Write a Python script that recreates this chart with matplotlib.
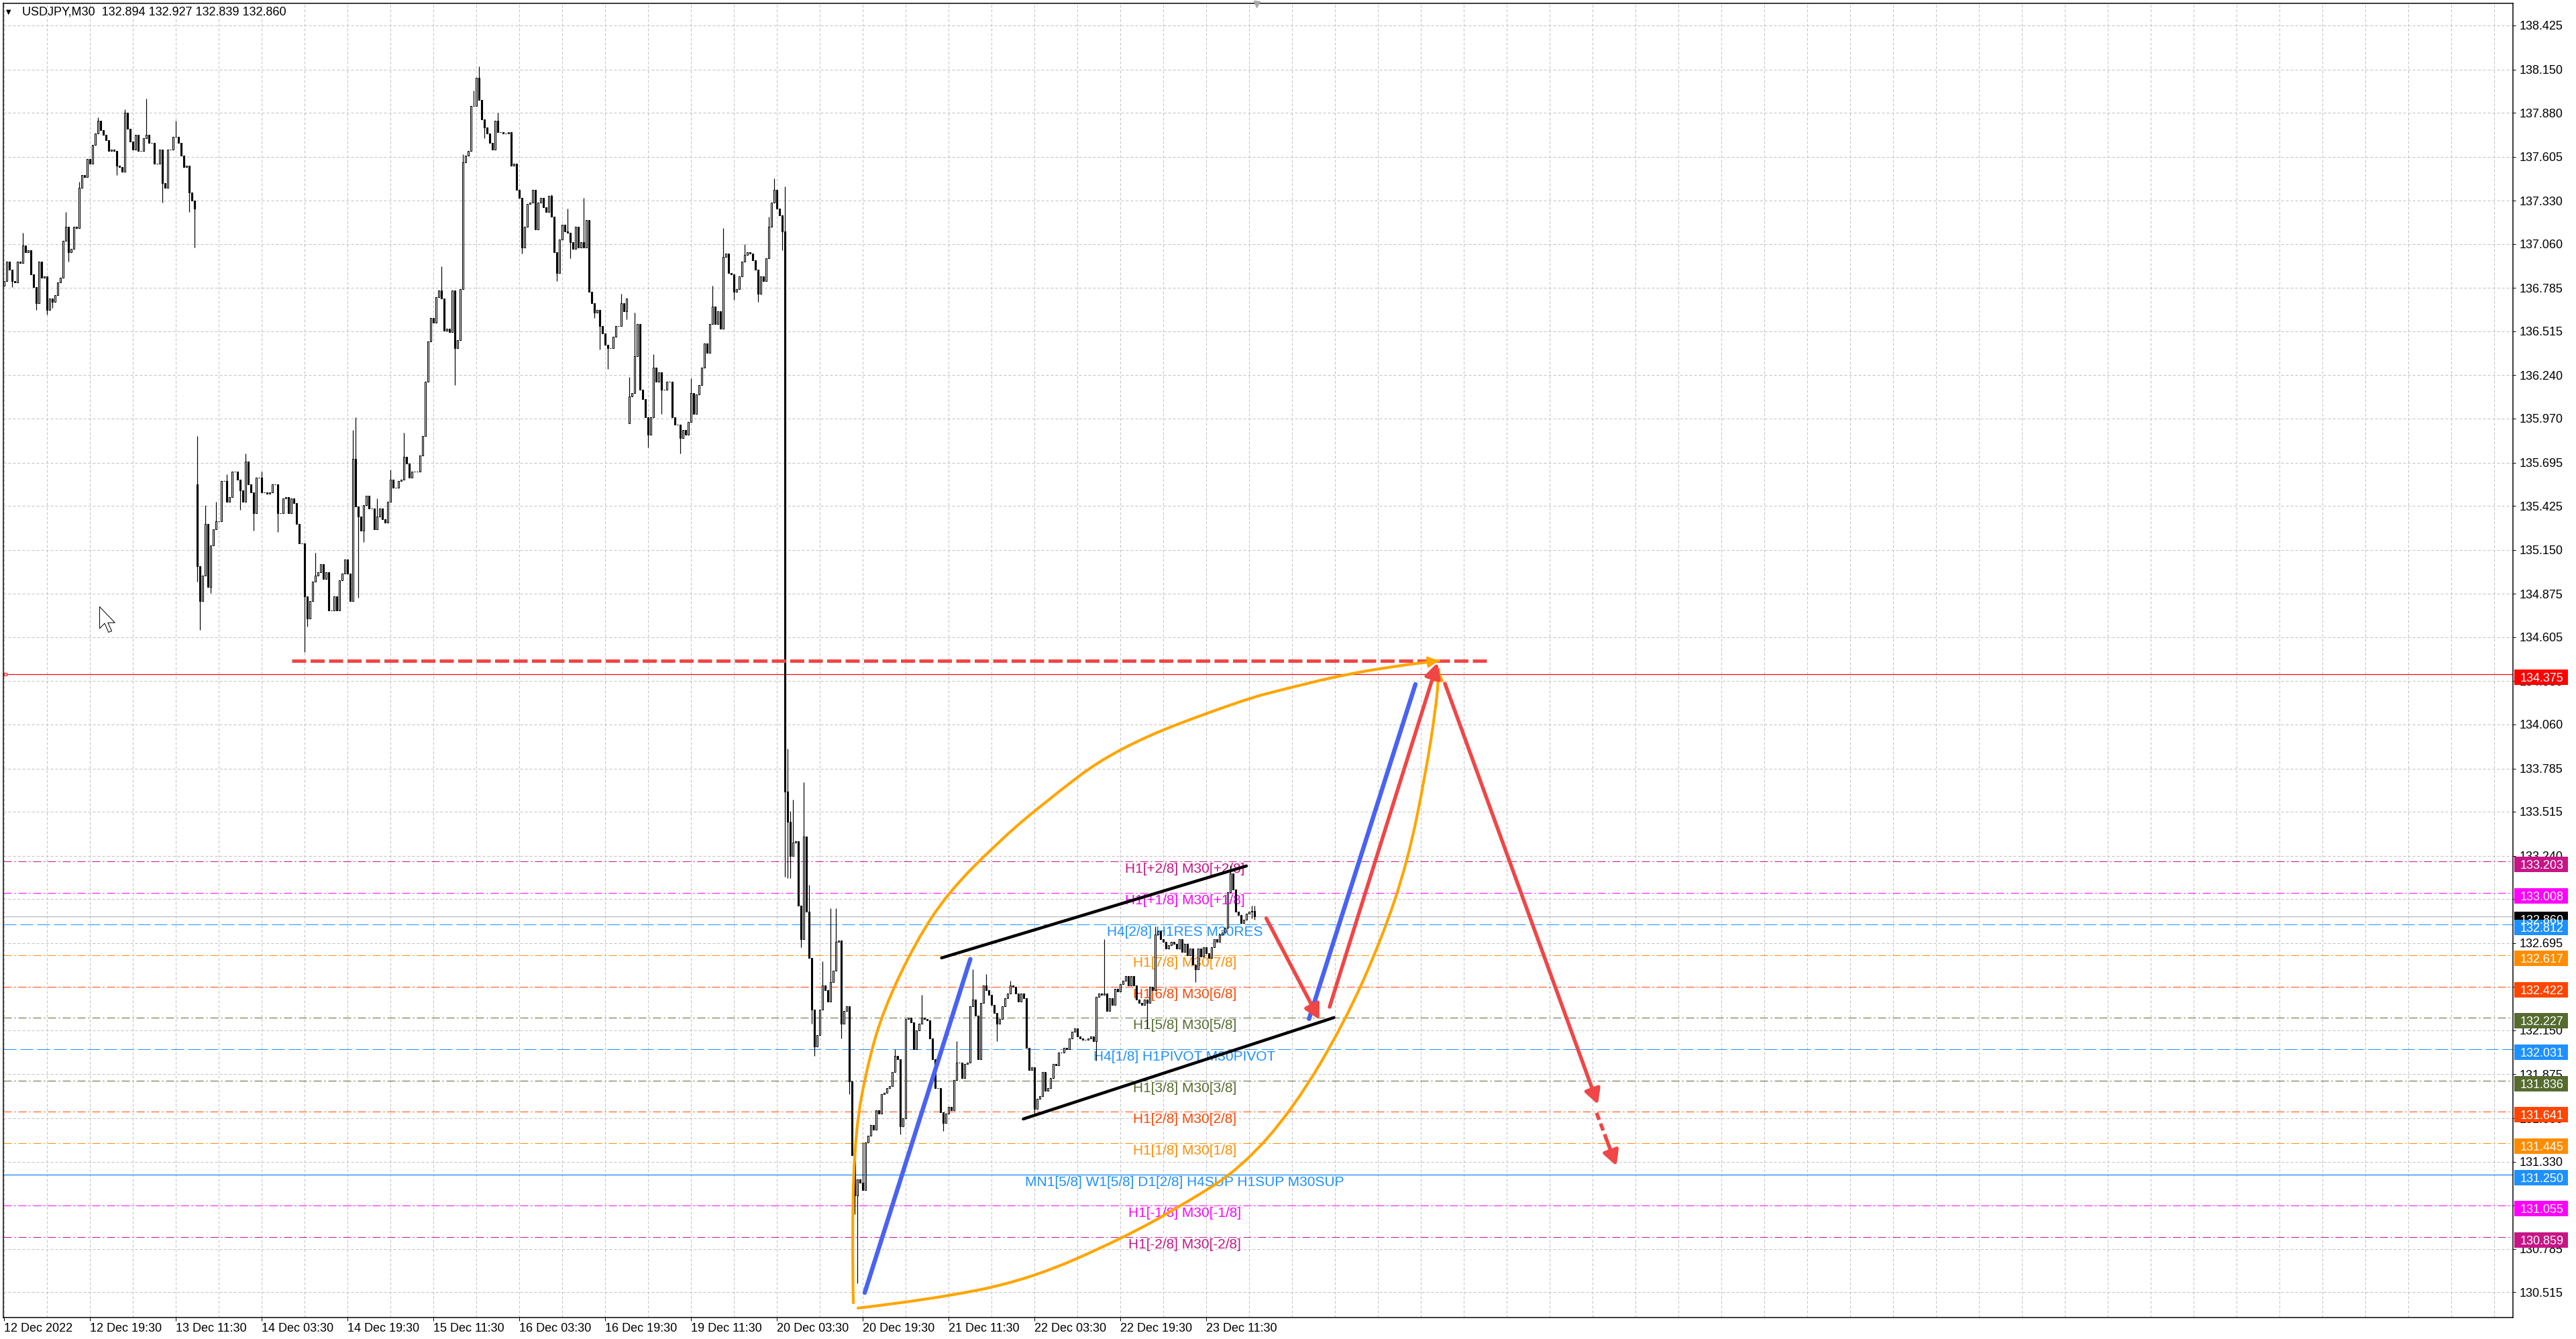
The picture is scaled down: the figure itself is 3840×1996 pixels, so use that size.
import numpy as np
import matplotlib
matplotlib.use("Agg")
import matplotlib.pyplot as plt
import matplotlib.transforms as mtransforms
from matplotlib.patches import Rectangle, PathPatch
from matplotlib.path import Path

plt.rcParams["lines.scale_dashes"] = False
plt.rcParams["font.family"] = ["Liberation Sans", "DejaVu Sans"]

#################### DATA ####################
# M30 closes, bar by bar (12 Dec 2022 00:00 -> 23 Dec 2022)
close_a = [
    136.83, 136.95, 136.90, 136.83, 136.82, 136.95, 136.94, 137.05, 137.01, 137.02,
    136.87, 136.79, 136.69, 136.95, 136.85, 136.86, 136.65, 136.72, 136.70, 136.74,
    136.82, 136.85, 137.08, 137.17, 137.01, 137.03, 137.17, 137.16, 137.41, 137.49,
    137.48, 137.59, 137.56, 137.68, 137.75, 137.83, 137.77, 137.74, 137.71, 137.64,
    137.65, 137.64, 137.55, 137.54, 137.51, 137.88, 137.78, 137.70, 137.65, 137.74,
    137.64, 137.64, 137.72, 137.74, 137.69, 137.69, 137.56, 137.56, 137.65, 137.44,
    137.41, 137.65, 137.65, 137.73, 137.73, 137.69, 137.61, 137.54, 137.55, 137.38,
    137.33, 137.28,
]
close_b = [
    135.05, 134.83, 134.99, 135.31, 134.92, 135.18, 135.28, 135.33, 135.33, 135.58,
    135.58, 135.45, 135.48, 135.64, 135.64, 135.59, 135.52, 135.45, 135.70, 135.56,
    135.51, 135.38, 135.60, 135.60, 135.51, 135.51, 135.50, 135.51, 135.56, 135.56,
    135.38, 135.38, 135.47, 135.48, 135.38, 135.47, 135.44, 135.31, 135.19, 135.19,
    134.86, 134.72, 134.83, 134.95, 134.99, 135.01, 135.06, 134.97, 135.01, 134.77,
    134.77, 134.86, 134.77, 134.96, 135.00, 135.09, 135.00, 134.83, 135.72, 135.42,
    135.36, 135.27, 135.43, 135.49, 135.41, 135.41, 135.28, 135.36, 135.41, 135.34,
    135.32, 135.45, 135.59, 135.54, 135.54, 135.58, 135.59, 135.73, 135.69, 135.60,
    135.64,
]
close_c = [
    135.64, 135.64, 135.74, 135.86, 136.20, 136.45, 136.60, 136.57, 136.73, 136.77,
    136.72, 136.52, 136.53, 136.51, 136.77, 136.41, 136.46, 136.78, 137.57, 137.61,
    137.64, 137.92, 137.92, 138.10, 137.96, 137.84, 137.79, 137.75, 137.69, 137.65,
    137.83, 137.76, 137.76, 137.75, 137.75, 137.76, 137.55, 137.56, 137.40, 137.35,
    137.04, 137.17, 137.31, 137.32, 137.40, 137.15, 137.32, 137.35, 137.29, 137.26,
    137.36, 137.23, 137.01, 136.88, 137.09, 137.18, 137.14, 137.13, 137.07, 137.03,
    137.17, 137.04, 137.07, 137.04, 137.21, 136.76, 136.69, 136.63, 136.65, 136.55,
    136.50, 136.43, 136.41, 136.41, 136.48, 136.55, 136.55, 136.69, 136.64, 136.72,
    136.11, 136.13, 136.36, 136.56, 136.15, 136.09, 135.98, 135.87, 135.98, 136.29,
    136.20, 136.26, 136.15, 136.15, 136.20, 136.20, 135.98, 135.93, 135.93, 135.85,
    135.90, 135.87, 135.95, 136.13, 136.00, 136.12, 136.18, 136.29, 136.44, 136.38,
    136.56, 136.67, 136.56, 136.64, 136.53, 136.98, 137.00, 136.88, 136.87, 136.76,
    136.78, 136.86, 136.95, 136.99, 137.01, 137.00, 136.96, 136.90, 136.75, 136.86,
    136.83, 136.97, 137.17, 137.32, 137.40, 137.28, 137.24, 137.14,
]
close_d = [
    133.64, 133.45, 133.24, 133.32, 133.33, 132.93, 132.72, 133.36, 132.89, 132.60,
    132.28, 132.05, 132.12, 132.28, 132.43, 132.40, 132.33, 132.45, 132.52, 132.70,
    132.71, 132.19, 132.27, 132.30, 131.83, 131.37, 131.12, 131.22, 131.20, 131.15,
    131.45, 131.49, 131.56, 131.53, 131.65, 131.63, 131.75, 131.76, 131.79, 131.80,
    131.89, 131.99, 131.97, 131.55, 131.60, 132.22, 132.23, 132.20, 132.03, 132.15,
    132.19, 132.23, 132.22, 132.21, 132.10, 131.97, 131.79, 131.79, 131.64, 131.57,
    131.63, 131.67, 131.65, 131.84, 131.95, 131.95, 131.85, 131.94, 131.95, 132.30,
    132.34, 132.24, 131.97, 132.32, 132.43, 132.40, 132.37, 132.31, 132.26, 132.19,
    132.22, 132.30, 132.35, 132.38, 132.43, 132.42, 132.38, 132.33, 132.38, 132.35,
    132.04, 131.90, 131.92, 131.66, 131.72, 131.74, 131.89, 131.77, 131.79, 131.85,
    131.94, 131.93, 132.01, 132.01, 132.04, 132.03, 132.10, 132.14, 132.16, 132.11,
    132.10, 132.09, 132.09, 132.10, 132.11, 132.08, 132.36, 132.38, 132.37, 132.38,
    132.27, 132.35, 132.31, 132.41, 132.39, 132.44, 132.46, 132.49, 132.43, 132.49,
    132.43, 132.34, 132.32, 132.31, 132.34, 132.32, 132.42, 132.40, 132.75, 132.77,
    132.72, 132.70, 132.66, 132.68, 132.70, 132.69, 132.66, 132.72, 132.64, 132.69,
    132.62, 132.66, 132.56, 132.53, 132.66, 132.61, 132.67, 132.63, 132.60, 132.67,
    132.72, 132.70, 132.75, 132.76, 132.79, 133.01, 133.13, 133.03, 132.89, 132.87,
    132.82, 132.84, 132.88, 132.89, 132.894, 132.860,
]
# bars whose open is not the previous close (session gaps)
gap_open = {0: 136.80, 72: 135.56, 233: 135.94}
# visible wick extremes
wick_hi = {7: 137.13, 23: 137.26, 28: 137.45, 35: 137.85, 45: 137.90, 53: 137.97,
           64: 137.83, 72: 135.86, 75: 135.43, 79: 135.45, 83: 135.62, 90: 135.75,
           96: 135.64, 116: 135.13, 130: 135.90, 131: 135.98, 139: 135.47,
           144: 135.65, 149: 135.88, 163: 136.92, 171: 137.62, 175: 138.02,
           177: 138.17, 184: 137.88, 204: 137.37, 210: 137.28, 216: 137.35,
           230: 136.75, 233: 136.23, 235: 136.63, 242: 136.37, 256: 136.22,
           264: 136.80, 268: 137.16, 276: 137.06, 285: 137.23, 287: 137.47,
           291: 137.42, 292: 133.91, 293: 133.52, 294: 133.59, 298: 133.70,
           299: 132.98, 300: 133.06, 305: 132.58, 308: 132.91, 310: 132.91,
           320: 131.45, 332: 132.03, 342: 132.37, 355: 132.08, 361: 132.53,
           366: 132.50, 375: 132.46, 410: 132.72, 429: 132.80, 457: 133.18,
           465: 132.93, 466: 132.927}
wick_lo = {3: 136.79, 12: 136.65, 16: 136.62, 18: 136.66, 24: 136.95, 42: 137.49,
           59: 137.32, 69: 137.26, 71: 137.04, 72: 134.95, 73: 134.65, 77: 134.88,
           88: 135.40, 93: 135.27, 102: 135.26, 112: 134.51, 113: 134.67,
           132: 134.85, 134: 135.20, 168: 136.18, 179: 137.72, 193: 137.00,
           206: 136.83, 211: 136.97, 220: 136.60, 222: 136.40, 225: 136.28,
           232: 136.59, 240: 135.79, 245: 136.00, 252: 135.75, 272: 136.71,
           281: 136.70, 290: 137.02, 291: 133.11, 292: 133.10, 293: 133.10,
           297: 132.67, 301: 132.19, 302: 131.99, 312: 132.10, 315: 131.75,
           317: 131.00, 318: 130.57, 334: 131.50, 350: 131.52, 370: 132.08,
           384: 131.62, 407: 131.96, 426: 132.16, 444: 132.45, 465: 132.85,
           466: 132.839}

xtick_bars = [0, 32, 64, 96, 128, 160, 192, 224, 256, 288, 320, 352, 384, 416, 448]
xtick_labels = ["12 Dec 2022", "12 Dec 19:30", "13 Dec 11:30", "14 Dec 03:30",
                "14 Dec 19:30", "15 Dec 11:30", "16 Dec 03:30", "16 Dec 19:30",
                "19 Dec 11:30", "20 Dec 03:30", "20 Dec 19:30", "21 Dec 11:30",
                "22 Dec 03:30", "22 Dec 19:30", "23 Dec 11:30"]
yticks = [138.425, 138.150, 137.880, 137.605, 137.330, 137.060, 136.785, 136.515,
          136.240, 135.970, 135.695, 135.425, 135.150, 134.875, 134.605, 134.330,
          134.060, 133.785, 133.515, 133.240, 132.970, 132.695, 132.420, 132.150,
          131.875, 131.600, 131.330, 131.055, 130.785, 130.515]

# murrey levels
levels = [133.203, 133.008, 132.812, 132.617, 132.422, 132.227, 132.031,
          131.836, 131.641, 131.445, 131.250, 131.055, 130.859]
level_names = ["H1[+2/8] M30[+2/8]", "H1[+1/8] M30[+1/8]", "H4[2/8] H1RES M30RES",
               "H1[7/8] M30[7/8]", "H1[6/8] M30[6/8]", "H1[5/8] M30[5/8]",
               "H4[1/8] H1PIVOT M30PIVOT", "H1[3/8] M30[3/8]", "H1[2/8] M30[2/8]",
               "H1[1/8] M30[1/8]", "MN1[5/8] W1[5/8] D1[2/8] H4SUP H1SUP M30SUP",
               "H1[-1/8] M30[-1/8]", "H1[-2/8] M30[-2/8]"]
level_colors = ["#C71585", "#FF00FF", "#1E90FF", "#FF8C00", "#FF4500", "#556B2F",
                "#1E90FF", "#556B2F", "#FF4500", "#FF8C00", "#1E90FF", "#FF00FF",
                "#C71585"]
level_kind = ["dd", "dd", "dash", "dd", "dd", "dd", "dash", "dd", "dd", "dd",
              "solid", "dd", "dd"]
label_bar = 440

red_level = 134.375
bid = 132.860
header = "USDJPY,M30  132.894 132.927 132.839 132.860"

# hand drawn objects, (bar, price)
target_level = 134.458
target_span = (107.2, 553.0)
arc_left = [(316.5, 130.448), (316.0, 130.918), (317.25, 131.525), (321.75, 131.932),
            (327.75, 132.279), (339.75, 132.702), (351.75, 133.008), (369.75, 133.314),
            (386.5, 133.557), (414.75, 133.917), (461.0, 134.211), (480.25, 134.294),
            (499.25, 134.370), (518.5, 134.424), (534.75, 134.458)]
arc_bottom = [(318.25, 130.415), (345.75, 130.469), (381.75, 130.591), (417.5, 130.855),
              (441.5, 131.081), (461.0, 131.291), (480.25, 131.655), (499.25, 132.187),
              (513.5, 132.723), (523.25, 133.213), (529.75, 133.749), (533.75, 134.177),
              (534.75, 134.403)]
blue_lines = [[(320.75, 130.511), (360.1, 132.594)], [(486.35, 132.221), (526.0, 134.311)]]
channel = [[(349.4, 132.602), (463.0, 133.176)], [(379.85, 131.596), (495.6, 132.229)]]
red_arrows = [[(470.4, 132.849), (490.2, 132.216)], [(494.0, 132.296), (534.2, 134.445)],
              [(537.0, 134.315), (594.0, 131.687)]]
red_dashed = [(593.5, 131.634), (600.9, 131.303)]
cursor_at = (35.5, 134.797)

#################### PLOT ####################
W, H, DPI = 3840, 1996, 100
PX = 72.0 / DPI  # points per pixel
PPU = 238.7      # pixels per price unit on this scale

fig = plt.figure(figsize=(W / DPI, H / DPI), dpi=DPI, facecolor="white")
ax = fig.add_axes([5 / W, (H - 1964) / H, (3746 - 5) / W, (1964 - 5) / H])
ax.set_xlim(-0.25, 935)
ax.set_ylim(130.356, 138.563)

grid_kw = dict(color="#C0C0C0", lw=1 * PX, dashes=(4 * PX, 3 * PX), zorder=0)
for b in range(0, 935, 16):
    ax.axvline(b, **grid_kw)
for y in yticks:
    ax.axhline(y, **grid_kw)

# levels
for lev, name, col, kind in zip(levels, level_names, level_colors, level_kind):
    if kind == "dd":
        ax.axhline(lev, color=col, lw=1 * PX, dashes=(12 * PX, 4 * PX, 2 * PX, 4 * PX), zorder=1)
    elif kind == "dash":
        ax.axhline(lev, color=col, lw=1 * PX, dashes=(19 * PX, 6 * PX), zorder=1)
    else:
        ax.axhline(lev, color=col, lw=1.4 * PX, zorder=1)
    ax.annotate(name, (label_bar, lev), xytext=(0, -2), textcoords="offset pixels",
                ha="center", va="top", color=col, fontsize=15, zorder=2)

ax.axhline(red_level, color="#FF0000", lw=1.2 * PX, zorder=2)
ax.plot([0.6], [red_level], marker="s", ms=5 * PX, mfc="white", mec="#FF0000",
        mew=1 * PX, zorder=2)
ax.axhline(bid, color="#B8B8B8", lw=1.2 * PX, zorder=1)

# candles
close = np.array(close_a + close_b + close_c + close_d)
bars = np.arange(len(close))
opens = np.r_[np.nan, close[:-1]]
for b, v in gap_open.items():
    opens[b] = v
hi = np.maximum(opens, close)
lo = np.minimum(opens, close)
for b, v in wick_hi.items():
    hi[b] = max(hi[b], v)
for b, v in wick_lo.items():
    lo[b] = min(lo[b], v)
ax.vlines(bars, lo, hi, color="black", lw=1.2 * PX, zorder=3)
up = close >= opens
ax.bar(bars[up], close[up] - opens[up], bottom=opens[up], width=0.72,
       facecolor="white", edgecolor="black", linewidth=1.1 * PX, zorder=4)
ax.bar(bars[~up], close[~up] - opens[~up], bottom=opens[~up], width=0.72,
       facecolor="black", edgecolor="black", linewidth=1.1 * PX, zorder=4)

# drawings
RED, BLUE, ORANGE = "#F04646", "#4A62F2", "#FFA500"
ax.plot(target_span, [target_level, target_level], color=RED, lw=5 * PX,
        dashes=(21 * PX, 6.5 * PX), dash_capstyle="butt", zorder=6)


def smooth_path(pts):
    # quadratic b-spline through the anchor polygon
    verts, codes = [pts[0]], [Path.MOVETO]
    for k in range(1, len(pts) - 1):
        mid = ((pts[k][0] + pts[k + 1][0]) / 2, (pts[k][1] + pts[k + 1][1]) / 2)
        verts += [pts[k], mid]
        codes += [Path.CURVE3, Path.CURVE3]
    verts.append(pts[-1])
    codes.append(Path.LINETO)
    return Path(verts, codes)


for arc in (arc_left, arc_bottom):
    ax.add_patch(PathPatch(smooth_path(arc), facecolor="none", edgecolor=ORANGE,
                           lw=4.2 * PX, capstyle="round", joinstyle="round", zorder=6))
    ax.annotate("", xy=arc[-1], xytext=arc[-2],
                arrowprops=dict(arrowstyle="-|>,head_length=0.7,head_width=0.35",
                                color=ORANGE, lw=3 * PX, mutation_scale=14,
                                shrinkA=0, shrinkB=0), zorder=6)

for seg in blue_lines:
    xs, ys = zip(*seg)
    ax.plot(xs, ys, color=BLUE, lw=6.5 * PX, solid_capstyle="round", zorder=7)
for seg in channel:
    xs, ys = zip(*seg)
    ax.plot(xs, ys, color="black", lw=4.5 * PX, solid_capstyle="round", zorder=7)
for p0, p1 in red_arrows:
    ax.annotate("", xy=p1, xytext=p0,
                arrowprops=dict(arrowstyle="-|>,head_length=0.6,head_width=0.32",
                                color=RED, lw=5.5 * PX, mutation_scale=22,
                                capstyle="round", shrinkA=0, shrinkB=0), zorder=8)
(x0, y0), (x1, y1) = red_dashed
xm, ym = x0 + 0.55 * (x1 - x0), y0 + 0.55 * (y1 - y0)
ax.plot([x0, xm], [y0, ym], color=RED, lw=5.5 * PX, dashes=(11 * PX, 6 * PX),
        dash_capstyle="butt", zorder=8)
ax.annotate("", xy=(x1, y1), xytext=(xm, ym),
            arrowprops=dict(arrowstyle="-|>,head_length=0.6,head_width=0.32",
                            color=RED, lw=5.5 * PX, mutation_scale=22,
                            shrinkA=0, shrinkB=0), zorder=8)

# mouse pointer left on the chart
cursor = Path([(0, 0), (0, -17), (4, -13), (7, -20), (9.5, -19), (6.5, -12.5),
               (12, -12.5), (0, 0)])
ax.plot([cursor_at[0]], [cursor_at[1]], marker=cursor, ms=76 * PX, mfc="white",
        mec="black", mew=1 * PX, zorder=9)

# axes styling
for s in ax.spines.values():
    s.set_color("black")
    s.set_linewidth(1.5 * PX)
ax.yaxis.tick_right()
ax.set_yticks(yticks)
ax.set_yticklabels([f"{v:.3f}" for v in yticks])
ax.tick_params(axis="y", direction="out", length=4 * PX, width=1 * PX, pad=4,
               labelsize=13, labelcolor="black")
ax.set_xticks(xtick_bars)
ax.set_xticklabels(xtick_labels, ha="left")
ax.tick_params(axis="x", direction="out", length=5 * PX, width=1 * PX, pad=2,
               labelsize=13, labelcolor="black")
ax.tick_params(axis="y", which="both", left=False)
ax.tick_params(axis="x", which="both", top=False)

# right price boxes
box_tr = mtransforms.blended_transform_factory(ax.transAxes, ax.transData)
box_h = 23 / PPU
box_dy = 4.5 / PPU
box_x0 = (3748 - 5) / 3741
box_w = 80 / 3741
box_levels = [red_level] + levels[:2] + [bid] + levels[2:]
box_colors = ["#FF0000"] + level_colors[:2] + ["#000000"] + level_colors[2:]
for lev, col in zip(box_levels, box_colors):
    ax.add_patch(Rectangle((box_x0, lev - box_dy - box_h / 2), box_w, box_h,
                           transform=box_tr, facecolor=col, edgecolor="none",
                           clip_on=False, zorder=9))
    ax.text(box_x0 + 9 / 3741, lev - box_dy, f"{lev:.3f}", transform=box_tr,
            color="white", fontsize=13, ha="left", va="center_baseline",
            clip_on=False, zorder=10)

# header and markers
fig.text(13 / W, 1 - 18 / H, "\u25BC", fontsize=7, va="center", ha="center",
         color="black", family="DejaVu Sans")
fig.text(33 / W, 1 - 18 / H, header, fontsize=13, va="center", ha="left", color="black")
ax.plot([466.75], [138.56], marker="v", ms=9 * PX, color="#A8A8A8", clip_on=False, zorder=9)

fig.savefig("out.png", dpi=DPI, facecolor="white")
